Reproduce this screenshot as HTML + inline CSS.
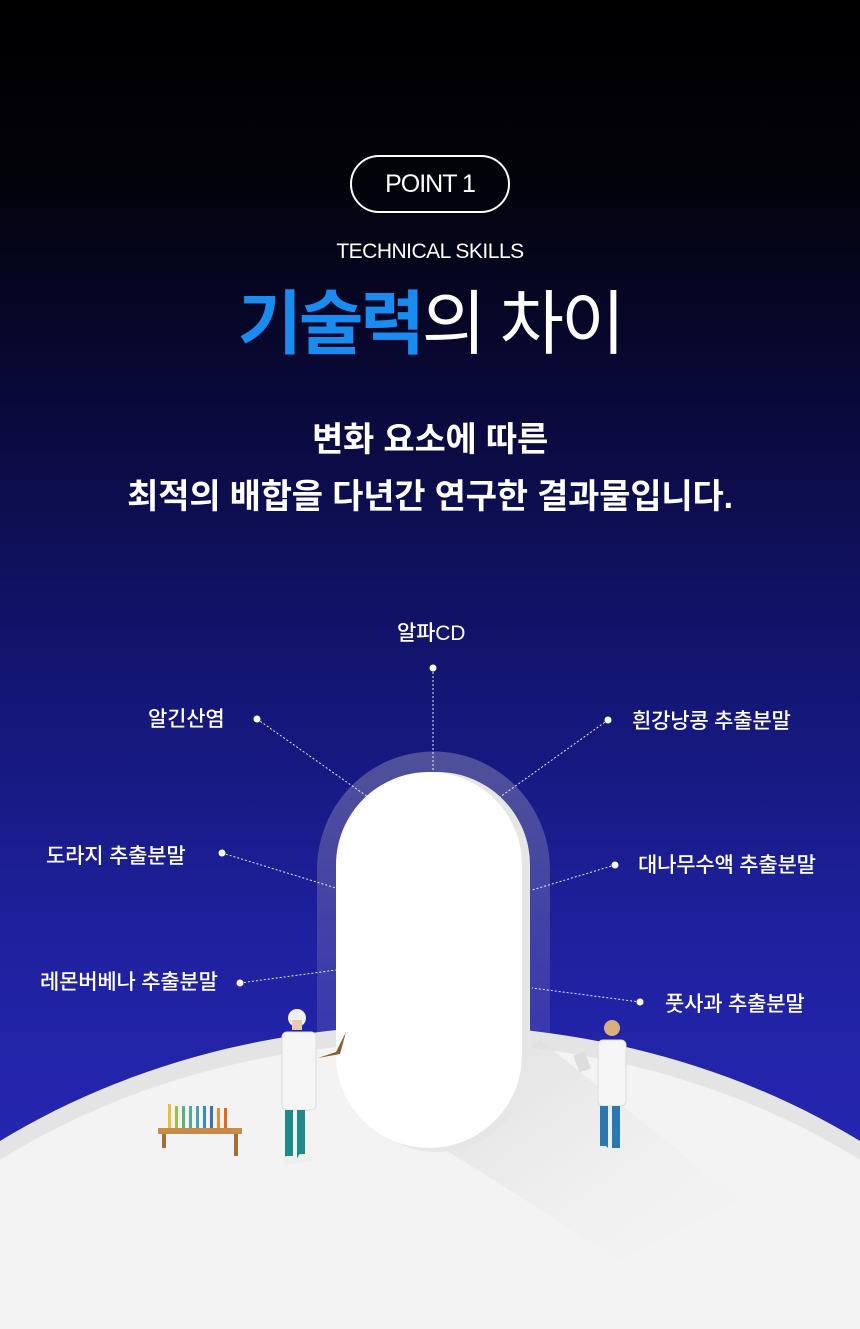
<!DOCTYPE html>
<html><head><meta charset="utf-8">
<style>
*{margin:0;padding:0;box-sizing:border-box}
html,body{width:860px;height:1329px;overflow:hidden}
body{position:relative;font-family:"Liberation Sans","Noto Sans CJK KR",sans-serif;color:#fff;
background:linear-gradient(to bottom,#000 0px,#02020a 180px,#0a0a3e 420px,#141677 700px,#1f21a0 950px,#2526b0 1150px)}
.abs{position:absolute}
.pill{left:350px;top:155px;width:160px;height:58px;border:2px solid #fff;border-radius:30px;font-size:25px;text-align:center;line-height:54px;letter-spacing:-1px}
.c{left:0;width:860px;text-align:center;white-space:nowrap}
.lbl{font-size:21px;font-weight:500;letter-spacing:-0.2px;white-space:nowrap;line-height:24px}
svg{position:absolute;left:0;top:0}
</style></head><body>
<svg width="860" height="1329" viewBox="0 0 860 1329">
<defs>
<linearGradient id="halo" x1="0" y1="0" x2="0" y2="1"><stop offset="0" stop-color="#5a5a9e"/><stop offset="1" stop-color="#3a3ab0"/></linearGradient>
<linearGradient id="shad" x1="0" y1="0" x2="1" y2="1"><stop offset="0" stop-color="#d8d8d8"/><stop offset="1" stop-color="#f2f2f2" stop-opacity="0"/></linearGradient>
</defs>
<path d="M317 1060 L317 870 A116 118 0 0 1 550 870 L550 1060 Z" fill="url(#halo)" opacity="0.85"/>
<ellipse cx="430" cy="1575" rx="700" ry="550" fill="#e4e4e4"/>
<ellipse cx="430" cy="1592" rx="695" ry="550" fill="#f3f3f3"/>
<path d="M430 1140 L540 1040 L740 1200 L620 1260 Z" fill="url(#shad)" opacity="0.8"/>
<rect x="344" y="772" width="186" height="380" rx="93" fill="#e6e6e6"/>
<rect x="336" y="772" width="186" height="376" rx="93" fill="#fff"/>
<g stroke="#fff" stroke-width="1" stroke-dasharray="2,2" fill="none" opacity="0.9">
<line x1="433" y1="668" x2="433" y2="772"/>
<line x1="257" y1="719" x2="368" y2="797"/>
<line x1="608" y1="720" x2="500" y2="797"/>
<line x1="222" y1="853" x2="336" y2="888"/>
<line x1="615" y1="865" x2="532" y2="890"/>
<line x1="240" y1="983" x2="336" y2="970"/>
<line x1="640" y1="1002" x2="532" y2="988"/>
</g>
<g fill="#fff">
<circle cx="433" cy="668" r="3.5"/><circle cx="257" cy="719" r="3.5"/><circle cx="608" cy="720" r="3.5"/>
<circle cx="222" cy="853" r="3.5"/><circle cx="615" cy="865" r="3.5"/><circle cx="240" cy="983" r="3.5"/><circle cx="640" cy="1002" r="3.5"/>
</g>
<g>
<rect x="158" y="1128" width="84" height="6" fill="#c98b4a"/>
<rect x="162" y="1134" width="4" height="14" fill="#a86c33"/><rect x="234" y="1134" width="4" height="22" fill="#a86c33"/>
<rect x="168" y="1104" width="3" height="24" fill="#e8c040"/><rect x="175" y="1106" width="3" height="22" fill="#9bc050"/>
<rect x="182" y="1106" width="3" height="22" fill="#5ab07a"/><rect x="189" y="1106" width="3" height="22" fill="#5aa89a"/>
<rect x="196" y="1106" width="3" height="22" fill="#4aa0b0"/><rect x="203" y="1106" width="3" height="22" fill="#3a8ac0"/>
<rect x="210" y="1106" width="3" height="22" fill="#3a70c0"/><rect x="217" y="1108" width="3" height="20" fill="#e89030"/>
<rect x="224" y="1108" width="3" height="20" fill="#e06a20"/>
</g>
<g>
<circle cx="297" cy="1018" r="9" fill="#f0f0f0"/><rect x="292" y="1020" width="10" height="10" fill="#e8c8b0"/>
<rect x="282" y="1032" width="34" height="78" rx="5" fill="#f5f5f5" stroke="#ddd"/>
<rect x="285" y="1110" width="8" height="48" fill="#1f8a8a"/><rect x="297" y="1110" width="8" height="48" fill="#1f8a8a"/>
<rect x="284" y="1156" width="14" height="8" rx="3" fill="#eee"/><rect x="298" y="1154" width="14" height="8" rx="3" fill="#eee"/>
<polygon points="318,1058 336,1052 346,1032 340,1054" fill="#8a5a30"/>
</g>
<g>
<circle cx="612" cy="1028" r="8" fill="#d8b080"/>
<rect x="598" y="1040" width="28" height="66" rx="5" fill="#f5f5f5" stroke="#ddd"/>
<rect x="600" y="1106" width="8" height="42" fill="#2a78b0"/><rect x="612" y="1106" width="8" height="42" fill="#2a78b0"/>
<rect x="594" y="1146" width="14" height="7" rx="3" fill="#eee"/><rect x="608" y="1148" width="12" height="7" rx="3" fill="#eee"/>
<rect x="576" y="1053" width="12" height="18" fill="#ddd" transform="rotate(-20 582 1062)"/>
</g>
</svg>

<div class="abs pill">POINT 1</div>
<div class="abs c" style="top:240px;font-size:21px;letter-spacing:-0.5px">TECHNICAL SKILLS</div>
<div class="abs c" style="top:282px;font-size:70px;font-weight:400;letter-spacing:-3px;line-height:84px"><span style="color:#1a8cf0;font-weight:700">기술력</span>의 차이</div>
<div class="abs c" style="top:420px;font-size:34px;font-weight:700;letter-spacing:-0.2px;line-height:40px">변화 요소에 따른</div>
<div class="abs c" style="top:477px;font-size:34px;font-weight:700;letter-spacing:-0.2px;line-height:40px">최적의 배합을 다년간 연구한 결과물입니다.</div>

<div class="abs lbl" style="left:397px;top:622px">알파CD</div>
<div class="abs lbl" style="left:148px;top:708px">알긴산염</div>
<div class="abs lbl" style="left:632px;top:710px">흰강낭콩 추출분말</div>
<div class="abs lbl" style="left:46px;top:845px">도라지 추출분말</div>
<div class="abs lbl" style="left:638px;top:854px">대나무수액 추출분말</div>
<div class="abs lbl" style="left:40px;top:971px">레몬버베나 추출분말</div>
<div class="abs lbl" style="left:665px;top:993px">풋사과 추출분말</div>
</body></html>
